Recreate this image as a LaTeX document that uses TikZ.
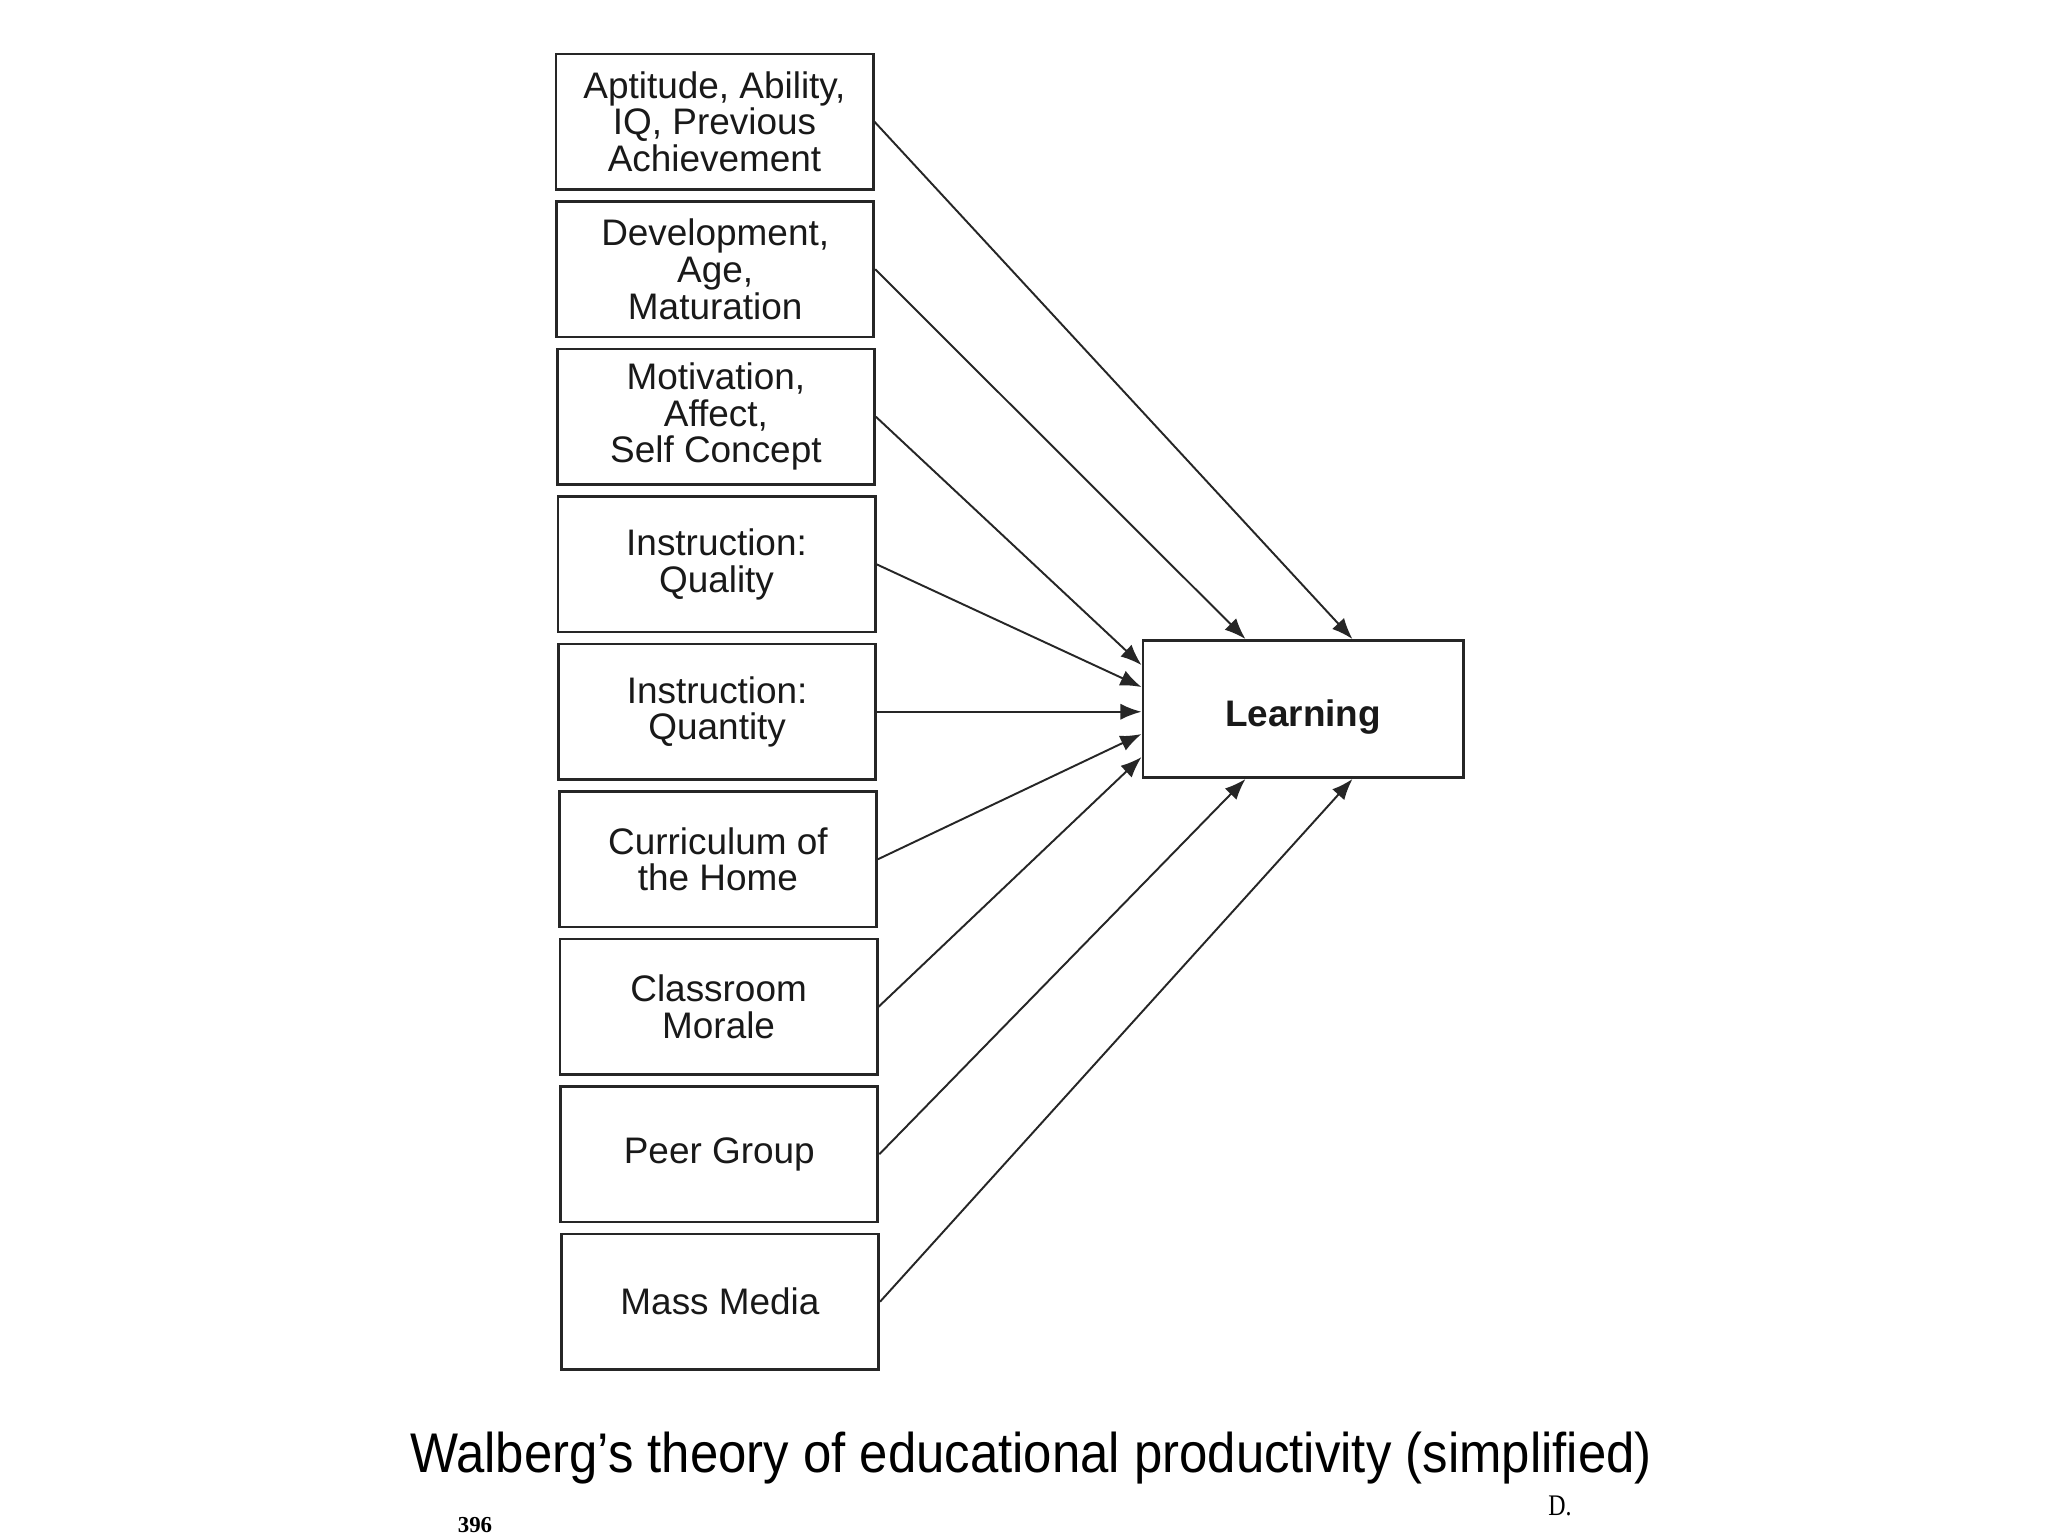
\documentclass[tikz,border=0pt]{standalone}
\usepackage{fontspec}
\setmainfont{Liberation Sans}
\newfontfamily\seriffont{Liberation Serif}
\usetikzlibrary{arrows.meta,calc}
\tikzset{
  fbox/.style={draw=black!85, line width=0.8pt, minimum width=3.17cm, minimum height=1.355cm,
    inner sep=0pt, align=center, font=\fontsize{10.5pt}{10.4pt}\selectfont, text=black!90},
  lbox/.style={draw=black!85, line width=0.8pt, minimum width=3.2cm, minimum height=1.37cm,
    inner sep=0pt, text height=12.1pt, text depth=2.2pt,
    font=\fontsize{10.5pt}{12pt}\selectfont\bfseries, text=black!90},
  conn/.style={-{Latex[length=6pt,width=4.6pt]}, line width=0.55pt, draw=black!85}
}
\begin{document}
\begin{tikzpicture}[x=0.01cm,y=-0.01cm]
\useasboundingbox (0,0) rectangle (2048,1536);
\fill[white] (0,0) rectangle (2048,1536);
\node[fbox] (b1) at (714.5,121.75) {Aptitude, Ability,\\IQ, Previous\\Achievement};
\node[fbox] (b2) at (715.2,269.25) {Development,\\Age,\\Maturation};
\node[fbox] (b3) at (715.9,416.75) {Motivation,\\Affect,\\Self Concept};
\node[fbox] (b4) at (716.5,564.25) {Instruction:\\Quality};
\node[fbox] (b5) at (717.2,711.75) {Instruction:\\Quantity};
\node[fbox] (b6) at (717.9,859.25) {Curriculum of\\the Home};
\node[fbox] (b7) at (718.6,1006.75) {Classroom\\Morale};
\node[fbox] (b8) at (719.3,1154.25) {Peer Group};
\node[fbox] (b9) at (720,1301.75) {Mass Media};
\node[lbox] (L) at (1303,709) {Learning};
\draw[conn] (b1.east) -- ($(L.north west)+(211,0)$);
\draw[conn] (b2.east) -- ($(L.north west)+(104,0)$);
\draw[conn] (b3.east) -- ($(L.north west)+(0,26)$);
\draw[conn] (b4.east) -- ($(L.north west)+(0,48)$);
\draw[conn] (b5.east) -- (b5.east -| L.west);
\draw[conn] (b6.east) -- ($(L.north west)+(0,95)$);
\draw[conn] (b7.east) -- ($(L.north west)+(0,118)$);
\draw[conn] (b8.east) -- ($(L.south west)+(104,0)$);
\draw[conn] (b9.east) -- ($(L.south west)+(211,0)$);
\node[anchor=base, inner sep=0pt] (cap) at (1031,1472)
  {\scalebox{0.91}[1]{\fontsize{15.9pt}{19pt}\selectfont Walberg’s theory of educational productivity (simplified)}};
\node[anchor=base, inner sep=0pt] (dd) at (1560,1515)
  {\scalebox{0.8}[1]{\seriffont\fontsize{8.5pt}{10pt}\selectfont D.}};
\node[anchor=base, inner sep=0pt] (pg) at (475,1532)
  {\seriffont\bfseries\fontsize{6.5pt}{8pt}\selectfont 396};
\end{tikzpicture}
\end{document}
